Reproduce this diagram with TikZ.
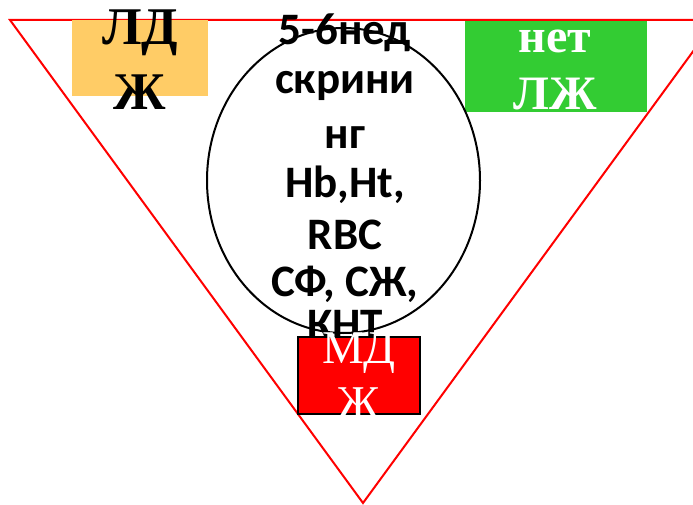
\documentclass[tikz,border=0pt]{standalone}
\usepackage{fontspec}
\setmainfont{Liberation Serif}
\newfontfamily\calib{Carlito}
\definecolor{boxyellow}{RGB}{255,204,102}
\definecolor{boxgreen}{RGB}{51,204,51}
\tikzset{
  tri/.style={draw=red, line width=2pt},
  boxnode/.style={inner sep=0pt, outer sep=0pt},
  line/.style={inner sep=0pt, outer sep=0pt, anchor=base},
  ytxt/.style={line, font=\fontsize{53}{60}\selectfont\bfseries, text=black},
  gtxt/.style={line, font=\fontsize{48}{56}\selectfont\bfseries, text=white},
  rtxt/.style={line, font=\fontsize{47}{54}\selectfont, text=white},
  etxt/.style={line, font=\fontsize{45}{52}\selectfont\calib\bfseries, text=black},
}
\begin{document}
\begin{tikzpicture}[x=1pt,y=-1pt]
\useasboundingbox (0,0) rectangle (693,505);
\clip (0,0) rectangle (693,505);
% triangle
\coordinate (tl) at (10,20);
\coordinate (tr) at (716,20);
\coordinate (bt) at (363,503);
\draw[tri, line join=miter] (tl) -- (tr) -- (bt) -- cycle;
% yellow box
\node[boxnode, fill=boxyellow, minimum width=136pt, minimum height=76pt] (ybox) at (140,58) {};
\node[ytxt] (y1) at (140,45) {ЛД};
\node[ytxt] (y2) at (140,110) {Ж};
% green box
\node[boxnode, fill=boxgreen, minimum width=182pt, minimum height=91pt] (gbox) at (556,66.5) {};
\node[gtxt] (g1) at (555,53) {нет};
\node[gtxt] (g2) at (555,110) {ЛЖ};
% ellipse
\coordinate (ec) at (343.5,180.5);
\draw[line width=2pt] (ec) ellipse [x radius=136.5, y radius=152.5];
\node[etxt] (e1) at (345,45) {5-6нед};
\node[etxt] (e2) at (345,94) {скрини};
\node[etxt] (e3) at (345,149) {нг};
\node[etxt] (e4) at (345,197) {Hb,Ht,};
\node[etxt] (e5) at (345,249) {RBC};
\node[etxt] (e6) at (345,296) {СФ, СЖ,};
\node[etxt] (e7) at (345,339) {КНТ};
% red box
\node[boxnode, fill=red, draw=black, line width=2pt, minimum width=122pt, minimum height=77pt] (rbox) at (359,375.5) {};
\node[rtxt] (r1) at (359,363) {МД};
\node[rtxt] (r2) at (359,418) {Ж};
\end{tikzpicture}
\end{document}
